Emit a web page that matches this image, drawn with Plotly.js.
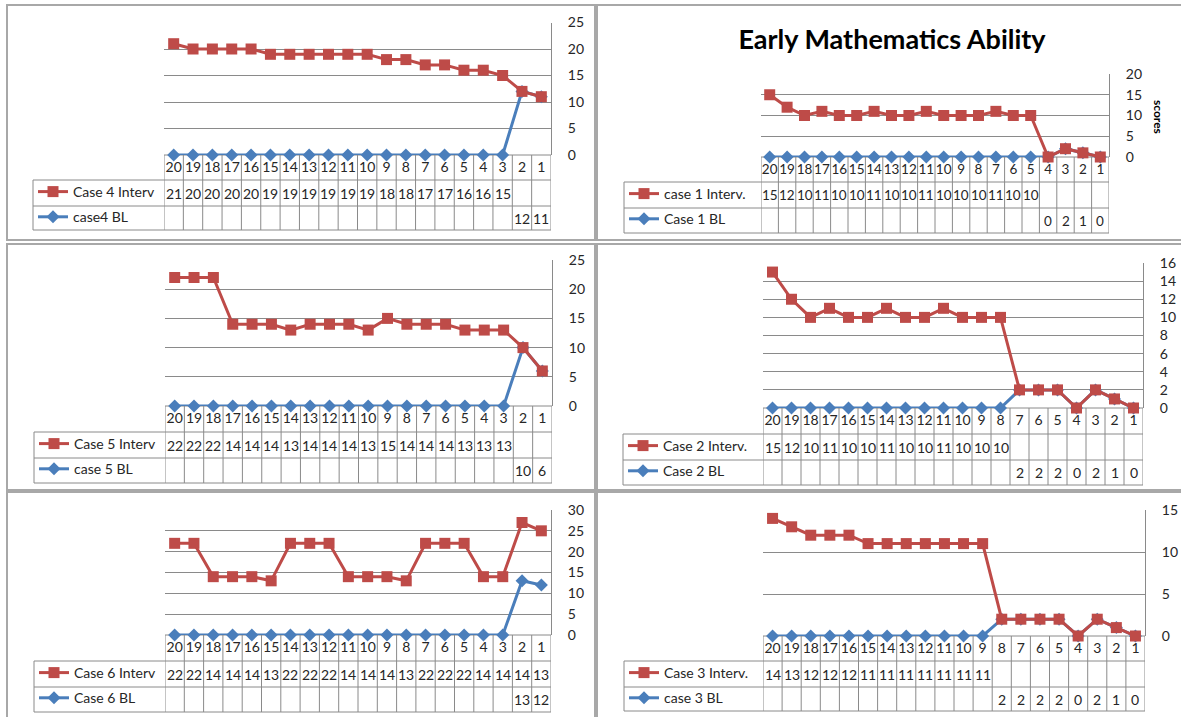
<!DOCTYPE html>
<html>
<head>
<meta charset="utf-8">
<script src="https://cdn.plot.ly/plotly-3.0.1.min.js"></script>
<style>html,body{margin:0;padding:0;background:#fff;}#chart{width:1181px;height:717px;}</style>
</head>
<body>
<div id="chart"></div>
<script>
// ---------------- DATA ----------------
const cats = ['20','19','18','17','16','15','14','13','12','11','10','9','8','7','6','5','4','3','2','1'];

const case4Interv = [21,20,20,20,20,19,19,19,19,19,19,18,18,17,17,16,16,15,null,null];
const case4BL     = [null,null,null,null,null,null,null,null,null,null,null,null,null,null,null,null,null,null,12,11];
const case1Interv = [15,12,10,11,10,10,11,10,10,11,10,10,10,11,10,10,null,null,null,null];
const case1BL     = [null,null,null,null,null,null,null,null,null,null,null,null,null,null,null,null,0,2,1,0];
const case5Interv = [22,22,22,14,14,14,13,14,14,14,13,15,14,14,14,13,13,13,null,null];
const case5BL     = [null,null,null,null,null,null,null,null,null,null,null,null,null,null,null,null,null,null,10,6];
const case2Interv = [15,12,10,11,10,10,11,10,10,11,10,10,10,null,null,null,null,null,null,null];
const case2BL     = [null,null,null,null,null,null,null,null,null,null,null,null,null,2,2,2,0,2,1,0];
const case6Interv = [22,22,14,14,14,13,22,22,22,14,14,14,13,22,22,22,14,14,14,13];
const case6BL     = [null,null,null,null,null,null,null,null,null,null,null,null,null,null,null,null,null,null,13,12];
const case3Interv = [14,13,12,12,12,11,11,11,11,11,11,11,null,null,null,null,null,null,null,null];
const case3BL     = [null,null,null,null,null,null,null,null,null,null,null,null,2,2,2,2,0,2,1,0];

const intervNames = ['Case 4 Interv','case 1 Interv.','Case 5 Interv','Case 2 Interv.','Case 6 Interv','Case 3 Interv.'];
const blNames     = ['case4 BL','Case 1 BL','case 5 BL','Case 2 BL','Case 6 BL','case 3 BL'];
const yMax  = [25,20,25,16,30,15];
const yStep = [5,5,5,2,5,5];
const chartTitle = 'Early Mathematics Ability';
const axisTitle = 'scores';

const intervSeries = [case4Interv,case1Interv,case5Interv,case2Interv,case6Interv,case3Interv];
const blSeries     = [case4BL,case1BL,case5BL,case2BL,case6BL,case3BL];

// ---------------- LAYOUT GEOMETRY (pixels) ----------------
const W = 1181, H = 717;
const px = v => v / W;
const py = v => 1 - v / H;
const geo = [
  {x0:164, x1:551,  yt:22.5, yb:155, rTop:180, rMid:206, rBot:230, tl:33,  fs:14},
  {x0:761, x1:1109, yt:74,   yb:157, rTop:182, rMid:208, rBot:233, tl:624, fs:13.5},
  {x0:165, x1:552,  yt:260,  yb:406, rTop:432, rMid:458, rBot:483, tl:34,  fs:14},
  {x0:763, x1:1143, yt:263,  yb:408, rTop:434, rMid:460, rBot:485, tl:623, fs:14},
  {x0:165, x1:551,  yt:510,  yb:635, rTop:661, rMid:687, rBot:712, tl:34,  fs:14},
  {x0:763, x1:1145, yt:510,  yb:636, rTop:661, rMid:687, rBot:711, tl:624, fs:14}
];
const panels = [
  {x0:7, x1:595, y0:5, y1:240},
  {x0:597, x1:1190, y0:5, y1:240},
  {x0:7, x1:595, y0:244, y1:490},
  {x0:597, x1:1190, y0:244, y1:490},
  {x0:7, x1:595, y0:492, y1:725},
  {x0:597, x1:1190, y0:492, y1:725}
];

const RED = '#BE4B48', BLUE = '#4A7EBB', GRID = '#8a8a8a', TXT = '#262626';
const FONT = 'Lato, Carlito, "Open Sans", sans-serif';
const FS = 14;

const traces = [];
const layout = {
  width: W, height: H,
  margin: {l:0, r:0, t:0, b:0},
  paper_bgcolor: '#ffffff', plot_bgcolor: 'rgba(0,0,0,0)',
  font: {family: FONT, size: FS, color: TXT},
  showlegend: true,
  shapes: [], annotations: [],
  title: {text: chartTitle, x: px(892), xanchor: 'center', y: py(40), yanchor: 'middle',
          font: {family: FONT, size: 27, color: '#000', weight: 'bold'}}
};

panels.forEach(p => {
  layout.shapes.push({type:'rect', xref:'paper', yref:'paper', x0:px(p.x0), x1:px(p.x1), y0:py(p.y0), y1:py(p.y1),
    line:{color:'#a8a8a8', width:2}, layer:'below'});
});

for (let k = 0; k < 6; k++) {
  const g = geo[k];
  const s = k === 0 ? '' : String(k + 1);
  const xa = 'x' + s, ya = 'y' + s;
  const lg = k === 0 ? 'legend' : 'legend' + (k + 1);
  const interv = intervSeries[k], bl = blSeries[k];
  // stacked line chart: baseline at bottom, intervention stacked on it (blanks count as zero)
  const blStack = bl.map(v => v == null ? 0 : v);
  const ivStack = interv.map((v, i) => (v == null ? 0 : v) + blStack[i]);

  traces.push({type:'scatter', mode:'lines+markers', x:cats, y:blStack, xaxis:xa, yaxis:ya,
    name: blNames[k], legend: lg, legendrank: 2, legendgroup: 'b'+k, cliponaxis:false,
    line:{color:BLUE, width:3}, marker:{symbol:'diamond', size:10, color:BLUE}, hoverinfo:'skip'});
  traces.push({type:'scatter', mode:'lines+markers', x:cats, y:ivStack, xaxis:xa, yaxis:ya,
    name: intervNames[k], legend: lg, legendrank: 1, legendgroup: 'r'+k, cliponaxis:false,
    line:{color:RED, width:3}, marker:{symbol:'square', size:11, color:RED}, hoverinfo:'skip'});

  layout['xaxis' + s] = {
    domain:[px(g.x0), px(g.x1)], anchor: ya, type:'category', range:[-0.5, cats.length - 0.5],
    tickmode:'linear', tick0:0, dtick:1, tickangle:0,
    showgrid:false, zeroline:false, showline:false, ticks:'', fixedrange:true,
    tickfont:{family:FONT, size:g.fs, color:TXT}, ticklabelstandoff: 2
  };
  layout['yaxis' + s] = {
    domain:[py(g.yb), py(g.yt)], anchor: xa, side:'right', range:[0, yMax[k]], dtick:yStep[k], tick0:0,
    showgrid:true, gridcolor:GRID, gridwidth:1, zeroline:false, showline:true, linecolor:GRID, linewidth:1,
    ticks:'', fixedrange:true, tickfont:{family:FONT, size:FS, color:TXT}, ticklabelstandoff: 13
  };
  layout[lg] = {
    x: px(g.tl), xanchor:'left', y: py(g.rTop - 4), yanchor:'top',
    bgcolor:'rgba(0,0,0,0)', borderwidth:0, traceorder:'grouped', tracegroupgap: 4,
    font:{family:FONT, size:FS, color:TXT}, itemwidth:30, itemclick:false, itemdoubleclick:false
  };

  // data table grid
  const ln = {color:GRID, width:1};
  for (let i = 0; i <= cats.length; i++) {
    layout.shapes.push({type:'line', xref:xa, yref:'paper', x0:i-0.5, x1:i-0.5, y0:py(g.yb), y1:py(g.rBot), line:ln, layer:'below'});
  }
  layout.shapes.push({type:'line', xref:xa, yref:'paper', x0:-0.5, x1:cats.length-0.5, y0:py(g.yb), y1:py(g.yb), line:ln, layer:'below'});
  [g.rTop, g.rMid, g.rBot].forEach(yy => {
    layout.shapes.push({type:'line', xref:'paper', yref:'paper', x0:px(g.tl), x1:px(g.x1), y0:py(yy), y1:py(yy), line:ln, layer:'below'});
  });
  layout.shapes.push({type:'line', xref:'paper', yref:'paper', x0:px(g.tl), x1:px(g.tl), y0:py(g.rTop), y1:py(g.rBot), line:ln, layer:'below'});

  // data table values
  interv.forEach((v, i) => {
    if (v == null) return;
    layout.annotations.push({xref:xa, yref:'paper', x:i, y:py((g.rTop + g.rMid) / 2), text:String(v), showarrow:false,
      font:{family:FONT, size:g.fs, color:TXT}, xanchor:'center', yanchor:'middle'});
  });
  bl.forEach((v, i) => {
    if (v == null) return;
    layout.annotations.push({xref:xa, yref:'paper', x:i, y:py((g.rMid + g.rBot) / 2), text:String(v), showarrow:false,
      font:{family:FONT, size:g.fs, color:TXT}, xanchor:'center', yanchor:'middle'});
  });
}

layout.annotations.push({xref:'paper', yref:'paper', x:px(1159), y:py(117), text:axisTitle, showarrow:false, textangle:90,
  font:{family:FONT, size:12, color:'#000', weight:'bold'}, xanchor:'center', yanchor:'middle'});

Plotly.newPlot('chart', traces, layout, {displayModeBar:false, staticPlot:true});
</script>
</body>
</html>
